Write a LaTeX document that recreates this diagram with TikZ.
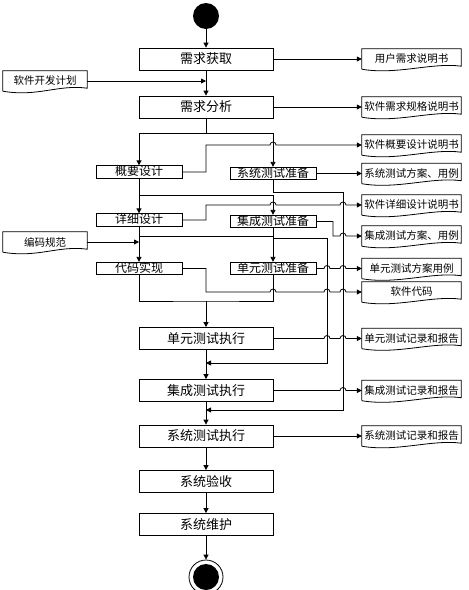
\documentclass[tikz,border=0pt]{standalone}
\usepackage{fontspec}
\setmainfont{Noto Sans CJK SC}
\usetikzlibrary{arrows.meta,calc}
\tikzstyle{act} = [draw, thick, minimum width=134pt, minimum height=22pt, inner sep=0pt, font=\fontsize{13}{13}\selectfont]
\tikzstyle{sact} = [draw, thick, minimum width=86pt, minimum height=12.5pt, inner sep=0pt, text height=9.5pt, text depth=2pt, font=\fontsize{12}{12}\selectfont]
\tikzstyle{doc} = [minimum width=99pt, minimum height=20pt, inner sep=0pt, font=\fontsize{10.5}{10.5}\selectfont]
\tikzstyle{arr} = [thick, -{Triangle[length=5pt,width=5pt]}]
\newcommand{\hop}[2]{-- ($(#1 |- #2)+(-3,0)$) arc[start angle=180,end angle=0,radius=3pt]}

\begin{document}
\begin{tikzpicture}[x=1pt,y=-1pt]
			\useasboundingbox (0,0) rectangle (469,590);
			% start and end
			\node[circle,fill,minimum size=26pt,inner sep=0pt] (start) at (206,16) {};
			\node[circle,draw,thick,minimum size=34pt,inner sep=0pt] (stop) at (206,577) {};
			\node[circle,fill,minimum size=26pt,inner sep=0pt] (stopin) at (stop) {};
			% activities
			\node[act] (n1) at (206,59) {需求获取};
			\node[act] (n2) at (206,107) {需求分析};
			\node[sact] (n3) at (139,172) {概要设计};
			\node[sact] (n4) at (273,173.5) {系统测试准备};
			\node[sact] (n5) at (139,220) {详细设计};
			\node[sact] (n6) at (273,221.5) {集成测试准备};
			\node[sact] (n7) at (139,268.5) {代码实现};
			\node[sact] (n8) at (273,268.5) {单元测试准备};
			\node[act] (n9) at (206,338.5) {单元测试执行};
			\node[act] (n10) at (206,390.5) {集成测试执行};
			\node[act] (n11) at (206,436) {系统测试执行};
			\node[act] (n12) at (206,481.5) {系统验收};
			\node[act] (n13) at (206,524.5) {系统维护};
			% documents
			\node[doc] (d1) at (411.5,59) {用户需求说明书};
			\node[doc] (d2) at (411.5,107) {软件需求规格说明书};
			\node[doc] (d3) at (411.5,145) {软件概要设计说明书};
			\node[doc] (d4) at (411.5,173.5) {系统测试方案、用例};
			\node[doc] (d5) at (411.5,205) {软件详细设计说明书};
			\node[doc] (d6) at (411.5,236) {集成测试方案、用例};
			\node[doc] (d7) at (411.5,268.5) {单元测试方案用例};
			\node[doc] (d8) at (411.5,292) {软件代码};
			\node[doc] (d9) at (411.5,338.5) {单元测试记录和报告};
			\node[doc] (d10) at (411.5,390.5) {集成测试记录和报告};
			\node[doc] (d11) at (411.5,436) {系统测试记录和报告};
			\node[doc,minimum width=84pt] (p1) at (45,81) {软件开发计划};
			\node[doc,minimum width=84pt] (p2) at (45,242) {编码规范};
			\foreach \d in {d1,d2,d3,d4,d5,d6,d7,d8,d9,d10,d11,p1,p2}
				\draw[thick] (\d.south west) -- (\d.north west) -- (\d.north east) -- ([yshift=3pt]\d.south east) .. controls ([xshift=-29pt,yshift=7pt]\d.south east) and ([xshift=35pt,yshift=-6pt]\d.south west) .. (\d.south west);
			% forks and buses
			\coordinate (f1) at (206,133);
			\coordinate (f2) at (139,195);
			\coordinate (f3) at (139,236);
			\coordinate (j0) at (206,301);
			\coordinate (j1) at (206,363);
			\coordinate (j2) at (206,410);
			\coordinate (bA) at (327,238);
			\coordinate (bB) at (343,192);
			\coordinate (k6) at (333,236);
			% main flow
			\draw[arr] (start) -- (n1);
			\draw[arr] (n1) -- (n2);
			\draw[arr] (p1.east) -- (p1.east -| n1.south);
			\draw[thick] (n2.south) -- (f1);
			\draw[arr] (f1) -| (n3.north);
			\draw[arr] (f1) -| (n4.north);
			\draw[arr] (n3) -- (n5);
			\draw[arr] (f2) -| (n6.north);
			\draw[arr] (n5) -- (n7);
			\draw[arr] (f3) -| (n8.north);
			\draw[arr] (p2.east) -- (p2.east -| n7.north);
			\draw[thick] (n7.south) |- (j0) -| (n8.south);
			\draw[arr] (j0) -- (n9);
			\draw[arr] (n9) -- (n10);
			\draw[arr] (n10) -- (n11);
			\draw[arr] (n11) -- (n12);
			\draw[arr] (n12) -- (n13);
			\draw[arr] (n13) -- (stop);
			\draw[arr] (n6.south) |- (bA) |- (j1);
			\draw[arr] (n4.south) |- (bB) |- (j2);
			% outputs
			\draw[arr] (n1) -- (d1);
			\draw[arr] (n2) -- (d2);
			\draw[arr] (n3.east) -| (f1 |- d3.west) \hop{n4.north}{d3.west} -- (d3.west);
			\draw[arr] (n4) -- (d4);
			\draw[arr] (n5.east) -| (f1 |- d5.west) \hop{n4.north}{d5.west} \hop{bB}{d5.west} -- (d5.west);
			\draw[arr] (n6.east) -| (k6) \hop{bB}{d6.west} -- (d6.west);
			\draw[arr] (n8.east) \hop{bA}{d7.west} \hop{bB}{d7.west} -- (d7.west);
			\draw[arr] (n7.east) -| (f1 |- d8.west) \hop{n4.north}{d8.west} \hop{bA}{d8.west} \hop{bB}{d8.west} -- (d8.west);
			\draw[arr] (n9.east) \hop{bA}{d9.west} \hop{bB}{d9.west} -- (d9.west);
			\draw[arr] (n10.east) \hop{bB}{d10.west} -- (d10.west);
			\draw[arr] (n11) -- (d11);
		\end{tikzpicture}
\end{document}
